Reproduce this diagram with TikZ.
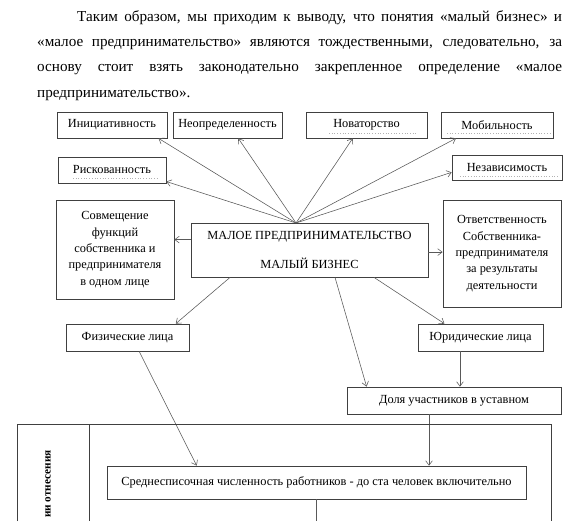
\documentclass[tikz,border=0pt]{standalone}
\usepackage{fontspec}
\setmainfont{Liberation Serif}
\usetikzlibrary{arrows.meta}

\tikzset{
  box/.style 2 args={draw=black!75,line width=.6pt,inner sep=0pt,align=center,
    minimum width=#1*0.03125cm,minimum height=#2*0.03125cm,
    font=\fontsize{11}{14.5}\selectfont},
  link/.style={->,draw=black!65,line width=.5pt},
  frame/.style={draw=black!75,line width=.6pt},
  squig/.style={draw=black!30,dotted,line width=.4pt}
}

\begin{document}
\begin{tikzpicture}[x=0.03125cm,y=-0.03125cm,>={Straight Barb[length=4pt,width=6pt]}]
    \useasboundingbox (0,0) rectangle (583,521);
    % text above the scheme
    \node[anchor=north west,inner sep=0pt,text width=16.4cm,align=justify,
        font=\fontsize{13.5}{22.6}\selectfont] (para) at (37,10)
        {\hspace*{1.25cm}Таким образом, мы приходим к выводу, что понятия «малый бизнес» и\linebreak
         «малое предпринимательство» являются тождественными, следовательно, за\linebreak
         основу стоит взять законодательно закрепленное определение «малое\linebreak
         предпринимательство».};
    % features
    \node[box={110}{26}] (init) at (112,125) {Инициативность};
    \node[box={109}{26}] (neopr) at (227.5,125) {Неопределенность};
    \node[box={121}{26}] (novat) at (366.5,125) {Новаторство};
    \node[box={112}{26}] (mobil) at (497,125) {Мобильность};
    \node[box={108}{26}] (risk) at (112,170) {Рискованность};
    \node[box={110}{25}] (nezav) at (507,167.5) {Независимость};
    \node[box={118}{99}] (sovm) at (115,249.5)
        {Совмещение\\функций\\собственника и\\предпринимателя\\в одном лице};
    \node[box={237}{54}] (main) at (309.5,250)
        {МАЛОЕ ПРЕДПРИНИМАТЕЛЬСТВО\\[11pt]МАЛЫЙ БИЗНЕС};
    \node[box={118}{107}] (otv) at (502,253.5)
        {Ответственность\\Собственника-\\предпринимателя\\за результаты\\деятельности};
    \node[box={123}{27}] (fiz) at (127.5,337.5) {Физические лица};
    \node[box={125}{27}] (yur) at (480.5,337.5) {Юридические лица};
    \node[box={214}{27}] (dolya) at (454,400.5) {Доля участников в уставном};
    \node[box={419}{33}] (sred) at (316.5,482.5)
        {Среднесписочная численность работников - до ста человек включительно};
    \node[rotate=90,anchor=west,inner sep=0pt,
        font=\bfseries\fontsize{10}{11}\selectfont] (crit) at (48,518) {ии отнесения};
    \coordinate (hub) at (296,223);
    \coordinate (bot) at (0,521);
    % proofing underlines
    \draw[squig] (73,178)--(157,178) (329,133)--(418,133) (447,133)--(550,133) (460,176)--(558,176);
    % arrows
    \draw[link] (hub)--(init.-16);
    \draw[link] (hub)--(neopr.-51);
    \draw[link] (hub)--(risk.-12);
    \draw[link] (hub)--(novat.-136);
    \draw[link] (hub)--(mobil.-162);
    \draw[link] (hub)--(nezav.-175);
    \draw[link] (main.175)--(main.175-|sovm.east);
    \draw[link] (main.-1)--(main.-1-|otv.west);
    \draw[link] (main.-161)--(fiz.16);
    \draw[link] (main.-47)--(dolya.171);
    \draw[link] (main.-23)--(yur.159);
    \draw[link] (fiz.-50)--(sred.172.7);
    \draw[link] (yur.-146.6)--(yur.-146.6|-dolya.north);
    \draw[link] (dolya.-151.6)--(dolya.-151.6|-sred.north);
    \draw[link,-] (sred.south)--(sred.south|-bot);
    % frame of the criteria table
    \draw[frame] (17,521)|-(551,424)--(551,521);
    \draw[frame] (89,424)--(89,521);
\end{tikzpicture}
\end{document}
